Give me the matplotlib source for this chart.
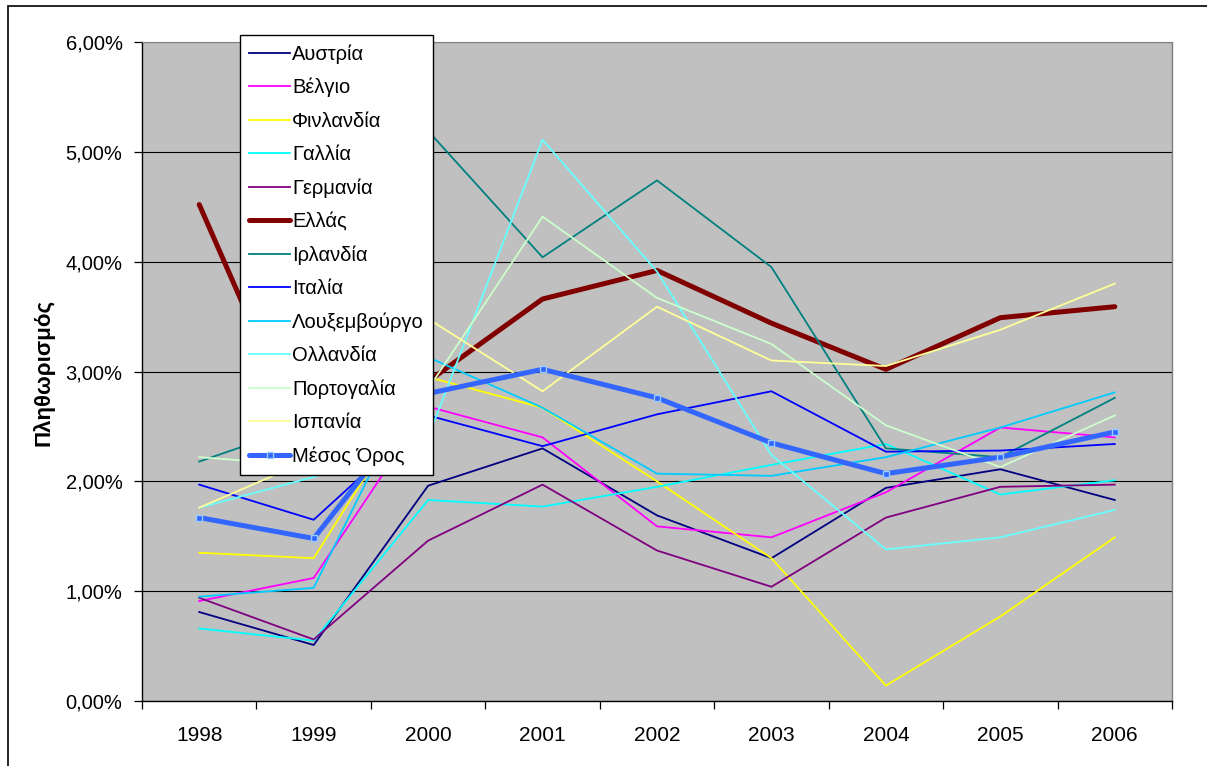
import matplotlib
matplotlib.use("Agg")
import matplotlib.pyplot as plt
from matplotlib.ticker import FixedLocator, FuncFormatter
from matplotlib.patches import Rectangle
import numpy as np

plt.rcParams['font.family'] = ['Liberation Sans', 'DejaVu Sans']

years = ['1998', '1999', '2000', '2001', '2002', '2003', '2004', '2005', '2006']

austria     = [0.81, 0.51, 1.96, 2.30, 1.69, 1.30, 1.94, 2.11, 1.83]
belgium     = [0.91, 1.12, 2.68, 2.40, 1.59, 1.49, 1.90, 2.49, 2.40]
finland     = [1.35, 1.30, 2.95, 2.67, 2.00, 1.30, 0.14, 0.77, 1.49]
france      = [0.66, 0.55, 1.83, 1.77, 1.95, 2.15, 2.34, 1.88, 2.01]
germany     = [0.94, 0.56, 1.46, 1.97, 1.37, 1.04, 1.67, 1.95, 1.97]
greece      = [4.52, 2.14, 2.91, 3.66, 3.92, 3.44, 3.02, 3.49, 3.59]
ireland     = [2.18, 2.54, 5.19, 4.04, 4.74, 3.95, 2.30, 2.22, 2.76]
italy       = [1.97, 1.65, 2.60, 2.32, 2.61, 2.82, 2.27, 2.28, 2.34]
luxembourg  = [0.95, 1.03, 3.13, 2.67, 2.07, 2.05, 2.22, 2.49, 2.81]
netherlands = [1.76, 2.04, 2.40, 5.11, 3.91, 2.24, 1.38, 1.49, 1.74]
portugal    = [2.22, 2.14, 2.84, 4.41, 3.67, 3.25, 2.51, 2.13, 2.60]
spain       = [1.76, 2.21, 3.48, 2.82, 3.59, 3.10, 3.05, 3.38, 3.80]
average     = [1.67, 1.48, 2.80, 3.02, 2.76, 2.35, 2.07, 2.22, 2.45]

series_names = ['Αυστρία', 'Βέλγιο', 'Φινλανδία', 'Γαλλία', 'Γερμανία', 'Ελλάς',
                'Ιρλανδία', 'Ιταλία', 'Λουξεμβούργο', 'Ολλανδία', 'Πορτογαλία',
                'Ισπανία', 'Μέσος Όρος']
series_values = [austria, belgium, finland, france, germany, greece, ireland, italy,
                 luxembourg, netherlands, portugal, spain, average]
colors = ['#000080', '#FF00FF', '#FFFF00', '#00FFFF', '#800080', '#800000',
          '#008080', '#0000FF', '#00CCFF', '#66FFFF', '#CCFFCC', '#FFFF99', '#3366FF']

W, H = 1207, 766
fig = plt.figure(figsize=(W / 100, H / 100), dpi=100)
ax = fig.add_axes([142 / W, 1 - 701 / H, (1172 - 142) / W, (701 - 42) / H])
ax.set_facecolor('#C0C0C0')

x = np.arange(len(years))
handles = []
for name, vals, c in zip(series_names, series_values, colors):
    if name == 'Ελλάς':
        h, = ax.plot(x, vals, color=c, lw=3.6, solid_capstyle='round', solid_joinstyle='round', label=name, zorder=3)
    elif name == 'Μέσος Όρος':
        h, = ax.plot(x, vals, color=c, lw=3.6, marker='s', markersize=4.5,
                     markerfacecolor='#3366FF', markeredgecolor='#99CCFF', markeredgewidth=1.0,
                     solid_capstyle='round', label=name, zorder=4)
    else:
        h, = ax.plot(x, vals, color=c, lw=1.3, label=name, zorder=3)
    handles.append(h)

ax.set_xlim(-0.5, len(years) - 0.5)
ax.set_ylim(0, 6)
ax.yaxis.set_major_locator(FixedLocator(np.arange(0, 7, 1)))
ax.yaxis.set_major_formatter(FuncFormatter(lambda v, p: f"{v:.2f}".replace('.', ',') + '%'))
ax.grid(axis='y', color='#000000', lw=0.8, zorder=1)
ax.set_axisbelow(True)

ax.xaxis.set_major_locator(FixedLocator(np.arange(-0.5, len(years), 1)))
ax.xaxis.set_major_formatter(FuncFormatter(lambda v, p: ''))
ax.xaxis.set_minor_locator(FixedLocator(x))
ax.set_xticklabels(years, minor=True)
ax.tick_params(axis='x', which='major', length=6, width=0.9, direction='out', color='#000000')
ax.tick_params(axis='x', which='minor', length=0, pad=18, labelsize=15)
ax.tick_params(axis='y', which='major', length=6, width=0.9, direction='out', pad=8, labelsize=14.5)

for s in ['left', 'bottom']:
    ax.spines[s].set_color('#000000')
    ax.spines[s].set_linewidth(1.0)
ax.spines['right'].set_color('#808080')
ax.spines['top'].set_color('#808080')
ax.spines['right'].set_linewidth(1.0)
ax.spines['top'].set_linewidth(0.8)

fig.text(44 / W, 1 - 372 / H, 'Πληθωρισμός', rotation=90, ha='center', va='center',
         fontsize=16, fontweight='bold')

leg = fig.legend(handles=handles, labels=series_names, loc='upper left',
                 bbox_to_anchor=(240 / W, 1 - 35 / H), borderaxespad=0,
                 fontsize=14.5, frameon=True, fancybox=False, framealpha=1,
                 edgecolor='#000000', handlelength=2.05, handletextpad=0.1,
                 labelspacing=0.71, borderpad=0.45)
leg.get_frame().set_linewidth(1.0)

fig.patches.append(Rectangle((8 / W, -0.1), 1.2, 1 - 6 / H + 0.1, transform=fig.transFigure,
                             fill=False, edgecolor='#000000', lw=1.2, zorder=-1))

fig.savefig('out.png', dpi=100)
